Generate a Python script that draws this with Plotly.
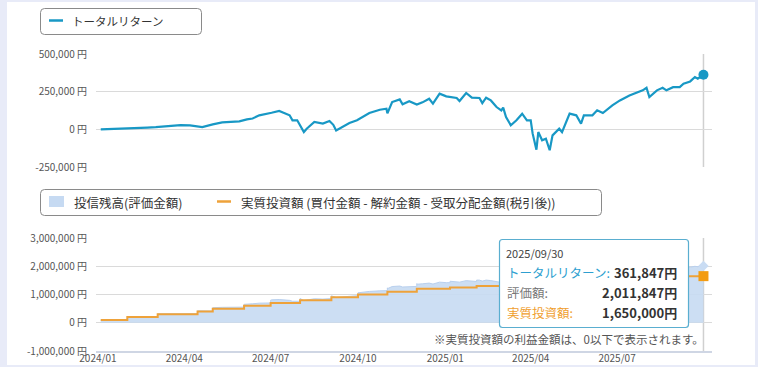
import plotly.graph_objects as go
import pandas as pd

# ---------------- data ----------------
ret_dates = [
    "2024-01-04", "2024-01-15", "2024-01-25", "2024-02-03", "2024-02-14", "2024-02-22",
    "2024-03-02", "2024-03-11", "2024-03-20", "2024-03-28", "2024-04-07", "2024-04-12",
    "2024-04-20", "2024-05-01", "2024-05-11", "2024-05-20", "2024-05-29", "2024-06-06",
    "2024-06-12", "2024-06-19", "2024-06-26", "2024-07-02", "2024-07-10", "2024-07-14",
    "2024-07-18", "2024-07-21", "2024-07-24", "2024-07-29", "2024-08-05", "2024-08-08",
    "2024-08-16", "2024-08-25", "2024-09-01", "2024-09-05", "2024-09-08", "2024-09-15",
    "2024-09-22", "2024-09-30", "2024-10-06", "2024-10-13", "2024-10-24", "2024-10-31",
    "2024-11-01", "2024-11-06", "2024-11-14", "2024-11-17", "2024-11-24", "2024-12-02",
    "2024-12-08", "2024-12-15", "2024-12-19", "2024-12-26", "2025-01-02", "2025-01-13",
    "2025-01-16", "2025-01-23", "2025-01-29", "2025-02-06", "2025-02-09", "2025-02-13",
    "2025-02-18", "2025-02-24", "2025-03-01", "2025-03-03", "2025-03-06", "2025-03-11",
    "2025-03-17", "2025-03-23", "2025-03-28", "2025-04-01", "2025-04-03", "2025-04-07",
    "2025-04-09", "2025-04-13", "2025-04-17", "2025-04-21", "2025-04-24", "2025-05-01",
    "2025-05-04", "2025-05-12", "2025-05-19", "2025-05-24", "2025-05-27", "2025-06-05",
    "2025-06-10", "2025-06-16", "2025-06-26", "2025-07-04", "2025-07-14", "2025-07-22",
    "2025-07-28", "2025-08-01", "2025-08-04", "2025-08-12", "2025-08-18", "2025-08-22",
    "2025-08-29", "2025-09-05", "2025-09-09", "2025-09-16", "2025-09-21", "2025-09-24",
    "2025-09-30",
]
ret_vals = [
    0, 2000, 3000, 5000, 9000, 12000,
    15000, 20000, 26000, 28000, 26000, 22000,
    15000, 33000, 46000, 50000, 53000, 66000,
    72000, 93000, 100000, 110000, 122000, 112000,
    100000, 93000, 60000, 60000, -18000, 4000,
    49000, 38000, 55000, 30000, -7000, 15000,
    42000, 60000, 82000, 108000, 130000, 137000,
    106000, 181000, 199000, 166000, 186000, 164000,
    179000, 203000, 170000, 237000, 219000, 208000,
    188000, 241000, 210000, 208000, 174000, 210000,
    192000, 148000, 126000, 144000, 82000, 27000,
    60000, 104000, 60000, 60000, -27000, -135000,
    -18000, -73000, -62000, -139000, -40000, 4000,
    -18000, 104000, 93000, 38000, 93000, 93000,
    126000, 108000, 159000, 192000, 225000, 247000,
    259000, 276000, 214000, 259000, 276000, 259000,
    280000, 280000, 303000, 318000, 347000, 336000,
    361847,
]

inv_dates = [
    "2024-01-04", "2024-02-01", "2024-03-04", "2024-04-15", "2024-05-01", "2024-06-03",
    "2024-07-01", "2024-08-01", "2024-09-03", "2024-10-01", "2024-11-01", "2024-12-02",
    "2025-01-06", "2025-02-03", "2025-03-03", "2025-04-01", "2025-05-01", "2025-06-02",
    "2025-07-01", "2025-08-01", "2025-09-01",
]
inv_vals = [
    100000, 200000, 300000, 400000, 500000, 600000,
    700000, 800000, 900000, 1000000, 1100000, 1200000,
    1250000, 1300000, 1350000, 1400000, 1450000, 1500000,
    1550000, 1600000, 1650000,
]
last_date = "2025-09-30"

x_tick_vals = ["2024-01-01", "2024-04-01", "2024-07-01", "2024-10-01",
               "2025-01-01", "2025-04-01", "2025-07-01"]
x_tick_text = ["2024/01", "2024/04", "2024/07", "2024/10", "2025/01", "2025/04", "2025/07"]
y1_tick_vals = [-250000, 0, 250000, 500000]
y1_tick_text = ["-250,000 円", "0 円", "250,000 円", "500,000 円"]
y2_tick_vals = [-1000000, 0, 1000000, 2000000, 3000000]
y2_tick_text = ["-1,000,000 円", "0 円", "1,000,000 円", "2,000,000 円", "3,000,000 円"]

legend1_text = "トータルリターン"
legend2a_text = "投信残高(評価金額)"
legend2b_text = "実質投資額 (買付金額 - 解約金額 - 受取分配金額(税引後))"
note_text = "※実質投資額の利益金額は、0以下で表示されます。"
tip_date = "2025/09/30"
tip_labels = ["トータルリターン:", "評価額:", "実質投資額:"]
tip_values = ["361,847円", "2,011,847円", "1,650,000円"]

# ---------------- derived valuation (invested + return) ----------------
ret = pd.Series(ret_vals, index=pd.to_datetime(ret_dates))
inv = pd.Series(inv_vals, index=pd.to_datetime(inv_dates))
pts = []
for d, r in ret.items():
    lvl = inv[inv.index <= d].iloc[-1]
    pts.append((d, 1, lvl + r))
for s in inv.index[1:]:
    prev_r = ret[ret.index < s].iloc[-1]
    prev_lvl = inv[inv.index < s].iloc[-1]
    pts.append((s, 0, prev_lvl + prev_r))
    pts.append((s, 0.5, inv[s] + prev_r))
pts.sort(key=lambda p: (p[0], p[1]))
val_x = [p[0] for p in pts]
val_y = [p[2] for p in pts]

# ---------------- layout geometry ----------------
W, H = 758, 367
ML, MR, MT, MB = 96, 46, 54, 16
PW, PH = W - ML - MR, H - MT - MB
PB = H - MB


def px(x):
    return (x - ML) / PW


def py(y):
    return (PB - y) / PH


def rrect(x0, y0, x1, y1, r):
    return (f"M{px(x0 + r)},{py(y0)} L{px(x1 - r)},{py(y0)} Q{px(x1)},{py(y0)} {px(x1)},{py(y0 + r)} "
            f"L{px(x1)},{py(y1 - r)} Q{px(x1)},{py(y1)} {px(x1 - r)},{py(y1)} "
            f"L{px(x0 + r)},{py(y1)} Q{px(x0)},{py(y1)} {px(x0)},{py(y1 - r)} "
            f"L{px(x0)},{py(y0 + r)} Q{px(x0)},{py(y0)} {px(x0 + r)},{py(y0)} Z")


FONT = "Noto Sans CJK JP"
BLUE = "#1898c5"
ORANGE = "#eea23a"
AREA = "rgba(198,218,242,0.9)"
GRID = "#dadada"

top_dom = [(PB - 167) / PH, 1.0]
bot_dom = [0.0, (PB - 238) / PH]

fig = go.Figure()

fig.add_trace(go.Scatter(
    x=ret_dates, y=ret_vals, mode="lines", line=dict(color=BLUE, width=2.2),
    xaxis="x", yaxis="y", hoverinfo="skip"))
fig.add_trace(go.Scatter(
    x=[ret_dates[-1]], y=[ret_vals[-1]], mode="markers",
    marker=dict(color=BLUE, size=10, symbol="circle"),
    xaxis="x", yaxis="y", hoverinfo="skip"))

fig.add_trace(go.Scatter(
    x=val_x, y=val_y, mode="lines", fill="tozeroy", fillcolor=AREA,
    line=dict(color="rgba(185,208,238,1)", width=1),
    xaxis="x2", yaxis="y2", hoverinfo="skip"))
fig.add_trace(go.Scatter(
    x=inv_dates + [last_date], y=inv_vals + [inv_vals[-1]], mode="lines",
    line=dict(color=ORANGE, width=2, shape="hv"),
    xaxis="x2", yaxis="y2", hoverinfo="skip"))
fig.add_trace(go.Scatter(
    x=[last_date], y=[val_y[-1]], mode="markers",
    marker=dict(color="#c9dcf3", size=8, symbol="diamond"),
    xaxis="x2", yaxis="y2", hoverinfo="skip"))
fig.add_trace(go.Scatter(
    x=[last_date], y=[inv_vals[-1]], mode="markers",
    marker=dict(color="#f39c12", size=10, symbol="square"),
    xaxis="x2", yaxis="y2", hoverinfo="skip"))

xr = ["2023-12-30", "2025-10-09"]
axis_font = dict(family=FONT, size=10, color="#555")

fig.update_layout(
    width=W, height=H,
    margin=dict(l=ML, r=MR, t=MT, b=MB, pad=0, autoexpand=False),
    paper_bgcolor="#e8ebf8",
    plot_bgcolor="rgba(0,0,0,0)",
    showlegend=False,
    hovermode=False,
    font=dict(family=FONT, color="#333"),
    xaxis=dict(domain=[0, 1], range=xr, anchor="y", showticklabels=False,
               showgrid=False, zeroline=False, type="date", automargin=False),
    yaxis=dict(domain=top_dom, range=[-250000, 500000], tickvals=y1_tick_vals,
               ticktext=y1_tick_text, showgrid=True, gridcolor=GRID, gridwidth=1.2,
               zeroline=False, ticks="outside", ticklen=6, tickcolor="rgba(0,0,0,0)",
               tickfont=axis_font, automargin=False),
    xaxis2=dict(domain=[0, 1], range=xr, anchor="y2", tickvals=x_tick_vals,
                ticktext=x_tick_text, showgrid=False, zeroline=False, type="date",
                ticks="", ticklabelstandoff=-3,
                tickfont=axis_font, showline=True, linecolor="#cfd6e4", linewidth=2,
                automargin=False),
    yaxis2=dict(domain=bot_dom, range=[-1000000, 3000000], tickvals=y2_tick_vals,
                ticktext=y2_tick_text, showgrid=True, gridcolor=GRID, gridwidth=1.2,
                zeroline=False, ticks="outside", ticklen=6, tickcolor="rgba(0,0,0,0)",
                tickfont=axis_font, automargin=False),
)

shapes = []
# white panel
shapes.append(dict(type="rect", xref="paper", yref="paper",
                   x0=px(7), x1=px(755), y0=py(365), y1=py(2),
                   fillcolor="white", line=dict(width=0), layer="below"))
# crosshair lines at the last date
shapes.append(dict(type="line", xref="x", yref="y domain", x0=last_date, x1=last_date,
                   y0=0, y1=1, line=dict(color="#d0d0d0", width=1.5), layer="below"))
shapes.append(dict(type="line", xref="x2", yref="paper", x0=last_date, x1=last_date,
                   y0=py(353), y1=py(238), line=dict(color="#d0d0d0", width=1.5), layer="below"))
# legend 1
shapes.append(dict(type="path", xref="paper", yref="paper", path=rrect(40.5, 8.5, 201.5, 34.5, 4),
                   line=dict(color="#8a8a8a", width=1), fillcolor="white"))
shapes.append(dict(type="line", xref="paper", yref="paper", x0=px(49), x1=px(63),
                   y0=py(20.5), y1=py(20.5), line=dict(color=BLUE, width=2.5)))
# legend 2
shapes.append(dict(type="path", xref="paper", yref="paper", path=rrect(40.5, 189.5, 601.5, 215.5, 4),
                   line=dict(color="#8a8a8a", width=1), fillcolor="white"))
shapes.append(dict(type="rect", xref="paper", yref="paper", x0=px(49), x1=px(64),
                   y0=py(207), y1=py(196), fillcolor="#c6daf2", line=dict(width=0)))
shapes.append(dict(type="line", xref="paper", yref="paper", x0=px(217), x1=px(231),
                   y0=py(201.5), y1=py(201.5), line=dict(color=ORANGE, width=2.5)))
# tooltip box
shapes.append(dict(type="path", xref="paper", yref="paper", path=rrect(499.5, 239.5, 688.5, 327.5, 3),
                   line=dict(color="#5aaed0", width=1.2), fillcolor="white"))
fig.update_layout(shapes=shapes)

ann = []


def text(x, y, s, size, color, anchor="left", bold=False):
    ann.append(dict(xref="paper", yref="paper", x=px(x), y=py(y), text=(f"<b>{s}</b>" if bold else s),
                    showarrow=False, xanchor=anchor, yanchor="middle",
                    font=dict(family=FONT, size=size, color=color)))


text(70, 21, legend1_text, 11.5, "#333")
text(72, 202, legend2a_text, 12.5, "#333")
text(239, 202, legend2b_text, 12.5, "#333")
text(706, 339, note_text, 11.5, "#555", anchor="right")
text(504, 253, tip_date, 11, "#444")
tip_colors = ["#2e9fd0", "#777", "#f0a030"]
for i, (lab, val) in enumerate(zip(tip_labels, tip_values)):
    yy = 272 + i * 20
    text(505, yy, lab, 12.5, tip_colors[i])
    text(679, yy, val, 13, "#333", anchor="right", bold=True)

fig.update_layout(annotations=ann)

fig.write_html("out.html")
